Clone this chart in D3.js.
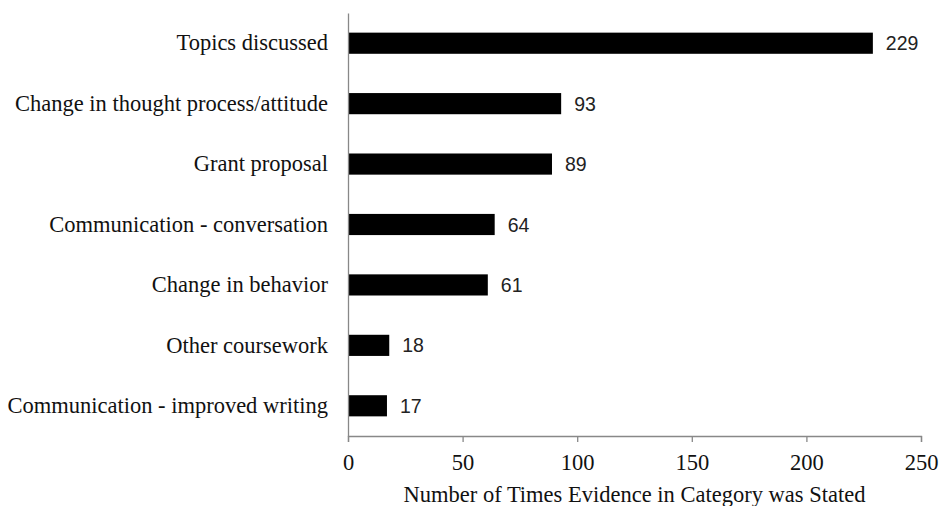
<!DOCTYPE html>
<html><head><meta charset="utf-8">
<script src="https://cdn.jsdelivr.net/npm/d3@7"></script>
<style>body{margin:0;background:#fff}svg{display:block}</style>
</head><body><svg id="c" width="941" height="506"></svg>
<script>
const categories = ["Topics discussed","Change in thought process/attitude","Grant proposal","Communication - conversation","Change in behavior","Other coursework","Communication - improved writing"];
const values = [229,93,89,64,61,18,17];
const xTicks = [0,50,100,150,200,250];
const xTitle = "Number of Times Evidence in Category was Stated";

const svg = d3.select("#c");
const m = {l:348, t:13};
const serif = "Liberation Serif, Times New Roman, serif";
const x = d3.scaleLinear().domain([0,250]).range([m.l, 921]);
const y = d3.scaleBand().domain(categories).range([m.t, 436]).paddingInner(0.65).paddingOuter(0.325);

svg.selectAll("rect.bar").data(values).join("rect").attr("class","bar")
  .attr("x", x(0)).attr("y",(d,i)=>y(categories[i]))
  .attr("width", d=>x(d)-x(0)).attr("height", y.bandwidth()).attr("fill","#000");

svg.selectAll("text.val").data(values).join("text").attr("class","val")
  .attr("x", d=>x(d)+13).attr("y",(d,i)=>y(categories[i])+y.bandwidth()/2)
  .attr("dy","0.36em").attr("font-family","Liberation Sans, Arial, sans-serif")
  .attr("font-size",19.5).attr("fill","#222").text(d=>d);

const xa = svg.append("g").attr("transform","translate(0,436)")
  .call(d3.axisBottom(x).tickValues(xTicks).tickSize(6).tickPadding(12).tickFormat(d3.format("d")));
xa.select(".domain").attr("stroke","#888").attr("stroke-width",1.3);
xa.selectAll(".tick line").attr("stroke","#888").attr("stroke-width",1.3);
xa.selectAll(".tick text").attr("font-family",serif).attr("font-size",22.5).attr("fill","#111");

const ya = svg.append("g").attr("transform",`translate(${x(0)},0)`)
  .call(d3.axisLeft(y).tickSize(0).tickPadding(20));
ya.select(".domain").attr("stroke","#888").attr("stroke-width",1.3);
ya.selectAll(".tick text").attr("font-family",serif).attr("font-size",22.5).attr("fill","#111");

svg.append("text").attr("x",(x(0)+x(250))/2).attr("y",502).attr("text-anchor","middle")
  .attr("font-family",serif).attr("font-size",22.5).attr("fill","#111").text(xTitle);
</script></body></html>
